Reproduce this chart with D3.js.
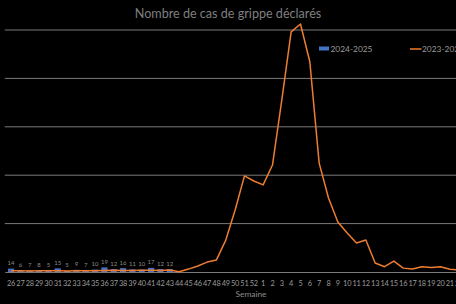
<!DOCTYPE html>
<html>
<head>
<meta charset="utf-8">
<script src="https://cdn.jsdelivr.net/npm/d3@7"></script>
<style>
  html, body { margin: 0; padding: 0; background: #000; }
  svg { display: block; font-family: Lato, "Open Sans", sans-serif; }
</style>
</head>
<body>
<div id="chart"></div>
<script>
// weeks on the axis (season runs from week 26 to week 23)
var WEEKS = [26,27,28,29,30,31,32,33,34,35,36,37,38,39,40,41,42,43,44,45,46,47,48,49,50,51,52,
             1,2,3,4,5,6,7,8,9,10,11,12,13,14,15,16,17,18,19,20,21,22,23];

// 2024-2025 : bars (weeks 26 -> 43)
var BAR_WEEKS  = [26,27,28,29,30,31,32,33,34,35,36,37,38,39,40,41,42,43];
var BAR_VALUES = [14,6,7,8,5,15,5,9,7,10,19,12,16,11,10,17,12,12];

// 2023-2024 : line (weeks 26 -> 22)
var LINE_WEEKS  = [26,27,28,29,30,31,32,33,34,35,36,37,38,39,40,41,42,43,44,45,46,47,48,49,50,51,52,
                   1,2,3,4,5,6,7,8,9,10,11,12,13,14,15,16,17,18,19,20,21,22];
var LINE_VALUES = [5,5,4,5,5,5,4,5,5,5,6,7,6,6,7,7,6,8,1,12,25,41,50,132,256,397,376,
                   360,442,711,992,1025,869,450,306,207,161,120,132,37,22,45,16,12,22,19,22,11,8];

var Y_TICKS = [0,200,400,600,800,1000];

var W = 456, H = 304;
var margin = { top: 30, left: 4.8, bottom: 32 };
var step = 9.4;
var iW = WEEKS.length * step;
var iH = H - margin.top - margin.bottom;

var svg = d3.select("#chart").append("svg")
    .attr("width", W).attr("height", H);

svg.append("rect").attr("width", W).attr("height", H).attr("fill", "#000");

var g = svg.append("g")
    .attr("transform", "translate(" + margin.left + "," + margin.top + ")");

var x = d3.scaleBand().domain(WEEKS).range([0, iW]).padding(0.34);
var y = d3.scaleLinear().domain([0, 1000]).range([iH, 0]);

function cx(w) { return x(w) + x.bandwidth() / 2; }

// gridlines
g.append("g").selectAll("line")
    .data(Y_TICKS.slice(1))
    .enter().append("line")
    .attr("x1", 0).attr("x2", iW)
    .attr("y1", function (d) { return y(d); })
    .attr("y2", function (d) { return y(d); })
    .attr("stroke", "#7a7a7a").attr("stroke-width", 1);

// bars
var bars = BAR_WEEKS.map(function (w, i) { return { w: w, v: BAR_VALUES[i] }; });

g.append("g").selectAll("rect")
    .data(bars)
    .enter().append("rect")
    .attr("x", function (d) { return x(d.w); })
    .attr("width", x.bandwidth())
    .attr("y", function (d) { return y(d.v); })
    .attr("height", function (d) { return iH - y(d.v); })
    .attr("fill", "#4472c4");

// bar labels
g.append("g").selectAll("text")
    .data(bars)
    .enter().append("text")
    .attr("x", function (d) { return cx(d.w); })
    .attr("y", function (d) { return y(d.v) - 3.5; })
    .attr("text-anchor", "middle")
    .attr("font-size", "6px")
    .attr("fill", "#8c8c8c")
    .text(function (d) { return d.v; });

// x axis
var xAxis = g.append("g")
    .attr("transform", "translate(0," + iH + ")")
    .call(d3.axisBottom(x).tickSize(0).tickPadding(9).tickSizeOuter(0));
xAxis.select(".domain").attr("stroke", "#7a7a7a");
xAxis.selectAll("text")
    .attr("font-size", "7.4px")
    .attr("font-family", "Lato, sans-serif")
    .attr("fill", "#9a9a9a")
    .attr("letter-spacing", "-0.2px");

// line
var pts = LINE_WEEKS.map(function (w, i) { return { w: w, v: LINE_VALUES[i] }; });
var line = d3.line()
    .x(function (d) { return cx(d.w); })
    .y(function (d) { return y(d.v); });

g.append("path")
    .datum(pts)
    .attr("d", line)
    .attr("fill", "none")
    .attr("stroke", "#ed7d31")
    .attr("stroke-width", 1.5)
    .attr("stroke-linejoin", "round");

// title
svg.append("text")
    .attr("x", 228).attr("y", 17.5)
    .attr("text-anchor", "middle")
    .attr("font-size", "12.6px")
    .attr("fill", "#7f7f7f")
    .text("Nombre de cas de grippe déclarés");

// axis title
svg.append("text")
    .attr("x", 251).attr("y", 297)
    .attr("text-anchor", "middle")
    .attr("font-size", "8.4px")
    .attr("fill", "#8c8c8c")
    .text("Semaine");

// legend
var legend = svg.append("g").attr("transform", "translate(319,0)");
legend.append("rect")
    .attr("x", 0).attr("y", 46.5)
    .attr("width", 10).attr("height", 4)
    .attr("fill", "#4472c4");
legend.append("text")
    .attr("x", 11.5).attr("y", 52)
    .attr("font-size", "8.4px")
    .attr("fill", "#9a9a9a")
    .text("2024-2025");
legend.append("line")
    .attr("x1", 91).attr("x2", 102.5)
    .attr("y1", 49).attr("y2", 49)
    .attr("stroke", "#ed7d31").attr("stroke-width", 1.5);
legend.append("text")
    .attr("x", 103).attr("y", 52)
    .attr("font-size", "8.4px")
    .attr("fill", "#9a9a9a")
    .text("2023-2024");
</script>
</body>
</html>
